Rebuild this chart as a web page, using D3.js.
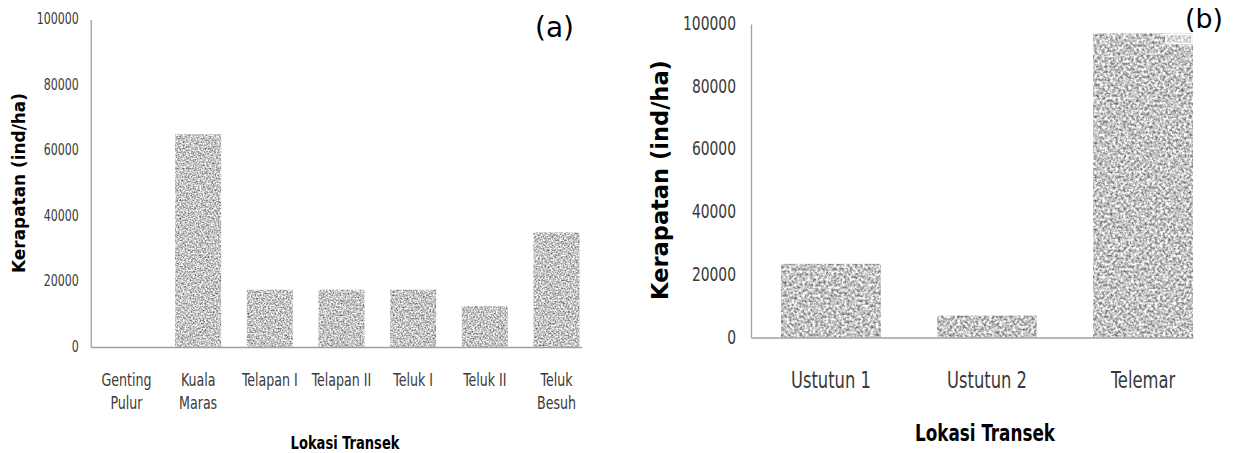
<!DOCTYPE html>
<html><head><meta charset="utf-8">
<script src="https://cdn.jsdelivr.net/npm/d3@7"></script>
<style>body{margin:0;background:#fff} svg{display:block}</style>
</head><body>
<svg id="c" width="1235" height="453"></svg>
<script>
// ---------- data ----------
const catsA = ["Genting Pulur","Kuala Maras","Telapan I","Telapan II","Teluk I","Teluk II","Teluk Besuh"];
const labelLinesA = [["Genting","Pulur"],["Kuala","Maras"],["Telapan I"],["Telapan II"],["Teluk I"],["Teluk II"],["Teluk","Besuh"]];
const valuesA = [0,65000,17500,17500,17500,12500,35000];
const catsB = ["Ustutun 1","Ustutun 2","Telemar"];
const labelLinesB = [["Ustutun 1"],["Ustutun 2"],["Telemar"]];
const valuesB = [23500,7000,97000];
const yTicks = [0,20000,40000,60000,80000,100000];
const yTitle = "Kerapatan (ind/ha)";
const xTitle = "Lokasi Transek";
const panelTags = ["(a)","(b)"];

const svg = d3.select("#c");
const defs = svg.append("defs");
function granite(id, freq){
  const f = defs.append("filter").attr("id", id).attr("x",0).attr("y",0).attr("width",1).attr("height",1)
    .attr("color-interpolation-filters","sRGB");
  f.append("feTurbulence").attr("type","fractalNoise").attr("baseFrequency",freq).attr("numOctaves",3).attr("seed",7).attr("result","n");
  f.append("feColorMatrix").attr("in","n").attr("type","matrix")
    .attr("values","1.1 0 0 0 0.22  1.1 0 0 0 0.22  1.1 0 0 0 0.23  0 0 0 0 1").attr("result","g");
  f.append("feComposite").attr("in","g").attr("in2","SourceGraphic").attr("operator","in");
}
granite("graniteA", 0.6);
granite("graniteB", 0.38);

const narrow = "'Liberation Sans Narrow','DejaVu Sans Condensed','Open Sans',sans-serif";
const boldFam = "'DejaVu Sans',Verdana,sans-serif";
const K = 1.27; // vertical stretch of the narrow texts

function fitScale(node, target){ return target / node.getComputedTextLength(); }

function panel(cfg){
  const g = svg.append("g");
  const x = d3.scaleBand().domain(cfg.cats).range(cfg.xr)
    .paddingInner(cfg.pi).paddingOuter(cfg.po).align(cfg.align);
  const y = d3.scaleLinear().domain([0,100000]).range(cfg.yr);

  // bars
  g.append("g").selectAll("rect").data(cfg.values).join("rect")
    .attr("x",(d,i)=>x(cfg.cats[i])).attr("width",x.bandwidth())
    .attr("y",d=>y(d)).attr("height",d=>y(0)-y(d))
    .attr("fill","#9a9a9a").attr("filter",`url(#${cfg.filter})`);

  // y axis
  const ya = g.append("g").attr("transform",`translate(${cfg.xr[0]},0)`)
    .call(d3.axisLeft(y).tickValues(yTicks).tickSize(0).tickPadding(cfg.ytp).tickFormat(d3.format("d")));
  ya.select(".domain").attr("stroke","#a0a0a0").attr("stroke-width",1.3);
  const yt = ya.selectAll(".tick text").attr("fill","#3a3a3a").attr("dy","0.28em")
    .attr("transform",`scale(1,${K})`)
    .style("font-family",narrow).style("font-size","14px");
  const ref = yt.filter(d=>d===100000).node();
  const ys = fitScale(ref, cfg.yTickW);
  yt.style("font-size",(14*ys)+"px");

  // x axis
  const xa = g.append("g").attr("transform",`translate(0,${cfg.yr[0]})`)
    .call(d3.axisBottom(x).tickSize(0).tickSizeOuter(0).tickFormat(""));
  xa.select(".domain").attr("stroke","#a0a0a0").attr("stroke-width",1.3);
  const xt = xa.selectAll(".tick").append("text")
    .attr("text-anchor","middle").attr("fill","#3a3a3a")
    .attr("transform",`scale(1,${K})`)
    .style("font-family",narrow).style("font-size","14px");
  xt.each(function(d,i){
    const t = d3.select(this);
    cfg.lines[i].forEach((s,k)=>{
      t.append("tspan").attr("x",0).attr("y",(cfg.xl1 - cfg.yr[0] + k*cfg.xlh)/K).attr("dy","0.36em").text(s);
    });
  });
  const xref = xt.filter((d,i)=>i===cfg.xRefIdx).select("tspan").node();
  const xs = fitScale(xref, cfg.xRefW);
  xt.style("font-size",(14*xs)+"px");

  // y title
  const yti = g.append("text").attr("transform",`translate(${cfg.ytx},${cfg.yty}) rotate(-90)`)
    .attr("text-anchor","middle").attr("dy","0.36em").attr("fill","#000")
    .style("font-family",boldFam).style("font-weight","bold").style("font-size","14px").text(yTitle);
  yti.style("font-size",(14*fitScale(yti.node(), cfg.ytLen))+"px");

  // x title
  const xti = g.append("text").attr("transform",`translate(${cfg.xtx},${cfg.xty}) scale(1,${K})`).attr("dy","0.36em")
    .attr("text-anchor","middle").attr("fill","#000")
    .style("font-family",narrow).style("font-weight","bold").style("font-size","14px").text(xTitle);
  xti.style("font-size",(14*fitScale(xti.node(), cfg.xtW))+"px");

  // panel tag
  const tag = g.append("text").attr("x",cfg.tagx).attr("y",cfg.tagy).attr("dy","0.36em")
    .attr("text-anchor","start").attr("fill","#000")
    .style("font-family","'DejaVu Sans',sans-serif").style("font-size","20px").text(cfg.tag);
  tag.style("font-size",(20*fitScale(tag.node(), cfg.tagW))+"px");

  return {g,x,y};
}

panel({cats:catsA, values:valuesA, lines:labelLinesA, filter:"graniteA",
  xr:[90.7,581.5], yr:[347,19.5], pi:0.358, po:0.103, align:0.865,
  ytp:12, yTickW:42, xl1:380, xlh:23, xRefIdx:0, xRefW:50,
  ytx:19, yty:183, ytLen:180, xtx:345, xty:442, xtW:109,
  tag:panelTags[0], tagx:535, tagy:27, tagW:39});

const pb = panel({cats:catsB, values:valuesB, lines:labelLinesB, filter:"graniteB",
  xr:[751,1193], yr:[337.5,24], pi:0.36, po:0.096, align:1,
  ytp:15, yTickW:53, xl1:380, xlh:23, xRefIdx:1, xRefW:80,
  ytx:660, yty:180, ytLen:240, xtx:985, xty:432, xtW:140,
  tag:panelTags[1], tagx:1185, tagy:18, tagW:38});

// small white legend-like box at top right of the tallest bar in (b)
const iMax = valuesB.indexOf(d3.max(valuesB));
pb.g.append("rect")
  .attr("x", pb.x(catsB[iMax]) + pb.x.bandwidth() - 27)
  .attr("y", pb.y(valuesB[iMax]) + 1)
  .attr("width", 26).attr("height", 9)
  .attr("fill","rgba(255,255,255,0.35)").attr("stroke","#fff").attr("stroke-width",1.5);
</script>
</body></html>
